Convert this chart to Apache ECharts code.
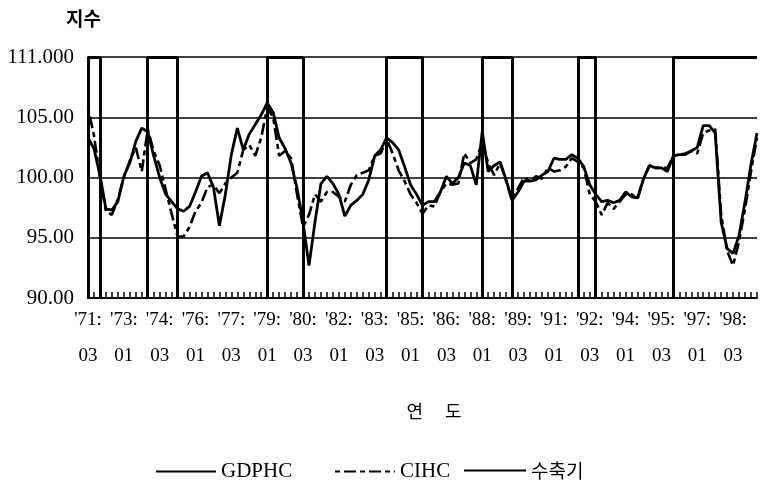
<!DOCTYPE html>
<html>
<head>
<meta charset="utf-8">
<script src="https://cdn.jsdelivr.net/npm/echarts@6/dist/echarts.min.js"></script>
<style>html,body{margin:0;padding:0;background:#fff}#c{width:760px;height:485px}</style>
</head>
<body>
<div id="c"></div>
<script>
// Quarterly categories 1971Q3 .. 1999Q3
const categories = [];
for (let y = 1971; y <= 1999; y++) {
  for (let q = 1; q <= 4; q++) {
    if ((y === 1971 && q < 3) || (y === 1999 && q > 3)) continue;
    categories.push(y + 'Q' + q);
  }
}

const xTickLabels = ["'71:\n03","'73:\n01","'74:\n03","'76:\n01","'77:\n03","'79:\n01","'80:\n03","'82:\n01","'83:\n03","'85:\n01","'86:\n03","'88:\n01","'89:\n03","'91:\n01","'92:\n03","'94:\n01","'95:\n03","'97:\n01","'98:\n03"];
const yTickLabels = {90:'90.00', 95:'95.00', 100:'100.00', 105:'105.00', 110:'111.000'};

const gdphc = [103.3,102.4,100.2,97.4,97.3,98.0,100.1,101.2,103.0,104.1,
  103.8,101.8,100.0,98.6,98.0,97.4,97.2,97.6,98.8,100.1,
  100.4,99.2,96.0,98.6,101.9,104.1,102.3,103.6,104.4,105.2,
  106.2,105.4,103.3,102.4,101.2,99.1,96.3,92.7,96.3,99.5,
  100.1,99.5,98.6,96.8,97.7,98.1,98.6,99.8,101.8,102.3,
  103.3,102.9,102.3,100.9,99.4,98.6,97.7,98.0,98.0,98.8,
  100.1,99.5,100.0,101.2,101.0,99.4,103.8,100.5,101.0,101.3,
  99.8,98.1,98.8,99.7,99.7,99.8,100.2,100.5,101.6,101.5,
  101.5,101.9,101.6,100.9,99.4,98.6,98.0,98.1,97.9,98.1,
  98.8,98.4,98.3,99.9,101.0,100.8,100.8,100.5,101.8,101.9,
  101.9,102.2,102.5,104.3,104.3,103.7,96.3,94.1,93.7,95.2,
  98.0,101.1,103.7];

const cihc = [105.8,103.5,100.0,97.2,96.9,98.2,100.0,101.4,102.5,100.5,
  104.0,102.2,101.0,99.0,97.0,95.1,95.1,95.9,97.2,97.9,
  99.2,99.4,98.7,99.5,100.0,100.4,102.3,102.7,101.8,103.3,
  105.8,105.0,101.8,102.2,101.6,98.6,95.9,96.9,98.6,98.0,
  98.8,98.8,98.4,98.0,99.4,100.2,100.4,100.6,101.8,102.0,
  103.2,102.0,100.6,99.7,98.6,97.9,97.0,97.7,97.6,98.8,
  99.5,99.4,99.5,102.0,101.2,101.5,102.9,101.2,100.2,101.2,
  99.7,98.1,99.1,100.0,99.7,100.1,99.9,100.8,100.5,100.6,
  100.9,101.6,101.3,100.8,98.6,98.0,96.9,97.9,97.4,98.0,
  98.6,98.6,98.2,99.9,101.0,100.8,100.8,100.8,101.8,101.9,
  102.0,102.2,102.0,103.7,103.9,104.0,96.9,93.9,92.7,94.7,
  97.4,100.5,103.3];

// Contraction periods (peak -> trough), quarters
const contractions = [['1971Q3','1972Q1'],['1974Q1','1975Q2'],['1979Q1','1980Q3'],['1984Q1','1985Q3'],['1988Q1','1989Q2'],['1992Q1','1992Q4'],['1996Q1','1999Q3']];
const lastCat = categories[categories.length - 1];

const markData = [];
contractions.forEach(function (p) {
  markData.push({ xAxis: p[0] });
  if (p[1] !== lastCat) markData.push({ xAxis: p[1] });
  markData.push([{ coord: [p[0], 110] }, { coord: [p[1], 110] }]);
});

const serif = 'Liberation Serif, DejaVu Serif, serif';
const kr = 'Noto Sans CJK KR, sans-serif';
const legendCommon = { top: 456, itemWidth: 60, itemHeight: 14, itemGap: 6, itemStyle: { opacity: 0 } };

const chart = echarts.init(document.getElementById('c'), null, { renderer: 'canvas' });
chart.setOption({
  animation: false,
  backgroundColor: '#fff',
  title: [
    { text: '지수', left: 61, top: 4, textStyle: { fontFamily: kr, fontSize: 19, fontWeight: 'bold', color: '#000' } },
    { text: '연　 도', left: 429, top: 397, textAlign: 'center', textStyle: { fontFamily: kr, fontSize: 18, fontWeight: 'normal', color: '#000' } }
  ],
  legend: [
    Object.assign({ data: ['GDPHC'], left: 150, textStyle: { fontFamily: serif, fontSize: 21, color: '#000' } }, legendCommon),
    Object.assign({ data: ['CIHC'], left: 329, textStyle: { fontFamily: serif, fontSize: 21, color: '#000' } }, legendCommon),
    Object.assign({ data: ['수축기'], left: 458, textStyle: { fontFamily: kr, fontSize: 19, color: '#000' } }, legendCommon, { itemWidth: 62 })
  ],
  grid: { left: 88, right: 3, top: 57, bottom: 187 },
  xAxis: {
    type: 'category',
    data: categories,
    boundaryGap: false,
    axisLine: { lineStyle: { color: '#000', width: 2 } },
    axisTick: { show: true, inside: true, length: 6, interval: 0, lineStyle: { color: '#000', width: 1.5 } },
    axisLabel: {
      interval: 5,
      margin: 4,
      fontFamily: serif,
      fontSize: 19,
      lineHeight: 36,
      color: '#000',
      formatter: function (v, i) { return i % 6 === 0 ? xTickLabels[i / 6] : ''; }
    },
    splitLine: { show: false }
  },
  yAxis: {
    type: 'value',
    min: 90, max: 110, interval: 5,
    axisLine: { show: true, lineStyle: { color: '#000', width: 1.5 } },
    axisTick: { show: false },
    axisLabel: {
      margin: 14,
      fontFamily: serif,
      fontSize: 21,
      color: '#000',
      formatter: function (v) { return yTickLabels[v] || ''; }
    },
    splitLine: { show: true, lineStyle: { color: '#000', width: 1.5 } }
  },
  series: [
    {
      name: 'GDPHC', type: 'line', data: gdphc, symbol: 'none',
      lineStyle: { color: '#000', width: 2.8 }, itemStyle: { color: '#000' }
    },
    {
      name: 'CIHC', type: 'line', data: cihc, symbol: 'none',
      lineStyle: { color: '#000', width: 2.6, type: [5, 4, 12, 4] }, itemStyle: { color: '#000' }
    },
    {
      name: '수축기', type: 'line', data: [], symbol: 'none',
      lineStyle: { color: '#000', width: 2.8 }, itemStyle: { color: '#000' },
      markLine: {
        silent: true, symbol: 'none', label: { show: false },
        lineStyle: { color: '#000', width: 3, type: 'solid' },
        data: markData
      }
    }
  ]
});
</script>
</body>
</html>
